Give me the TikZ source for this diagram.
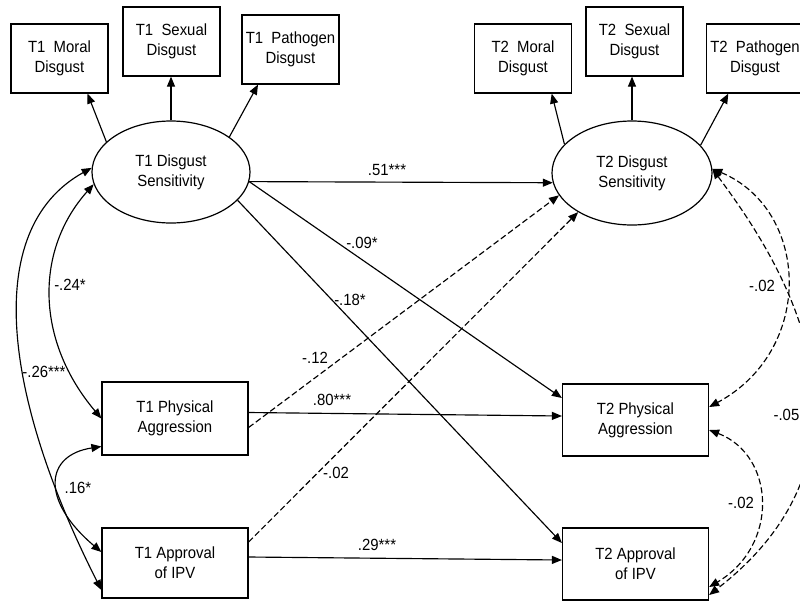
\documentclass[tikz,border=0pt]{standalone}
\usepackage{fontspec}
\setmainfont{Liberation Sans}[FakeStretch=0.92]
\usetikzlibrary{shapes.geometric,arrows.meta,calc}
\begin{document}
\begin{tikzpicture}[x=1pt,y=-1pt,
  >={Triangle[length=10pt,width=8pt]},
  every node/.style={font=\fontsize{16.2}{20}\selectfont},
  ibox/.style={draw,line width=1.2pt,align=center,inner sep=0pt,minimum width=97pt,minimum height=69pt},
  bigbox/.style={draw,line width=1.2pt,align=center,inner sep=0pt,minimum width=146pt,minimum height=72pt},
  lat/.style={draw,ellipse,line width=1.2pt,align=center,inner sep=0pt},
  conn/.style={line width=1.15pt,->},
  dconn/.style={conn,dash pattern=on 6pt off 3pt},
  lbl/.style={inner sep=0pt}]
\useasboundingbox (0,0) rectangle (800,603);
\clip (0,0) rectangle (800,603);

% indicator boxes
\node[ibox] (m1) at (59.5,58.5) {T1\ \ Moral\\Disgust};
\node[ibox] (s1) at (171.5,41.5) {T1\ \ Sexual\\Disgust};
\node[ibox] (p1) at (290.5,49.5) {T1\ \ Pathogen\\Disgust};
\node[ibox] (m2) at (523,58.5) {T2\ \ Moral\\Disgust};
\node[ibox] (s2) at (634.5,41.5) {T2\ \ Sexual\\Disgust};
\node[ibox] (p2) at (755,58.5) {T2\ \ Pathogen\\Disgust};

% latent variables
\node[lat,minimum width=158pt,minimum height=102pt] (t1ds) at (171,172) {T1 Disgust\\Sensitivity};
\node[lat,minimum width=160pt,minimum height=104pt] (t2ds) at (632,173) {T2 Disgust\\Sensitivity};

% observed boxes
\node[bigbox,minimum height=73pt] (t1pa) at (175,418.5) {T1 Physical\\Aggression};
\node[bigbox,minimum height=70pt] (t1ap) at (175,563) {T1 Approval\\of IPV};
\node[bigbox] (t2pa) at (635.5,420) {T2 Physical\\Aggression};
\node[bigbox] (t2ap) at (635.5,564) {T2 Approval\\of IPV};

% loadings
\draw[conn] (t1ds.155.9) -- ($(m1.south)+(28,0)$);
\draw[conn] (t1ds.north) -- (t1ds.north |- s1.south);
\draw[conn] (t1ds.31.9) -- ($(p1.south)+(-32.5,0)$);
\draw[conn] (t2ds.157.8) -- ($(m2.south)+(28.7,0)$);
\draw[conn] (t2ds.north) -- (t2ds.north |- s2.south);
\draw[conn] (t2ds.22.9) -- ($(p2.south)+(-26.7,0)$);

% structural paths
\draw[conn] (t1ds.-7.4) -- (t2ds.-173.4);
\draw[conn] (t1ds.-7.4) -- ($(t2pa.west)+(0,-22)$);
\draw[conn] (t1ds.-23) -- ($(t2ap.west)+(0,-21)$);
\draw[conn] ($(t1pa.east)+(0,-6)$) -- ($(t2pa.west)+(0,-4)$);
\draw[conn] ($(t1ap.east)+(0,-6)$) -- ($(t2ap.west)+(0,-4)$);
\draw[dconn] ($(t1pa.east)+(0,9)$) -- (t2ds.197.8);
\draw[dconn] ($(t1ap.east)+(0,-21)$) -- (t2ds.216.4);

% T1 covariances
\draw[conn,<->] (t1ds.189) .. controls (35,250) and (35,340) .. (t1pa.west);
\draw[conn,<->] (t1ds.177) .. controls (-20,230) and (5,400) .. ($(t1ap.west)+(0,27)$);
\draw[conn,<->] ($(t1pa.west)+(0,28)$) .. controls (45,455) and (40,500) .. ($(t1ap.west)+(0,-11)$);

% T2 residual covariances
\draw[dconn,<->] (t2ds.3.4) .. controls (810,210) and (815,350) .. ($(t2pa.east)+(0,-13)$);
\draw[dconn,<->] (t2ds.3.4) .. controls (765,240) and (910,440) .. ($(t2ap.east)+(0,31)$);
\draw[dconn,<->] ($(t2pa.east)+(0,10)$) .. controls (775,455) and (780,545) .. ($(t2ap.east)+(0,23)$);

% labels
\node[lbl] (l51) at (387,170) {.51***};
\node[lbl] (l09) at (362,243) {-.09*};
\node[lbl] (l18) at (350,300) {-.18*};
\node[lbl] (l12) at (315,358) {-.12};
\node[lbl] (l80) at (332,400) {.80***};
\node[lbl] (l02m) at (336,473) {-.02};
\node[lbl] (l29) at (377,545) {.29***};
\node[lbl] (l24) at (70,285) {-.24*};
\node[lbl] (l26) at (44,372) {-.26***};
\node[lbl] (l16) at (78,488) {.16*};
\node[lbl] (l02a) at (762,286) {-.02};
\node[lbl,anchor=east] (l05) at (799.5,415) {-.05};
\node[lbl] (l02b) at (741,503) {-.02};
\end{tikzpicture}
\end{document}
